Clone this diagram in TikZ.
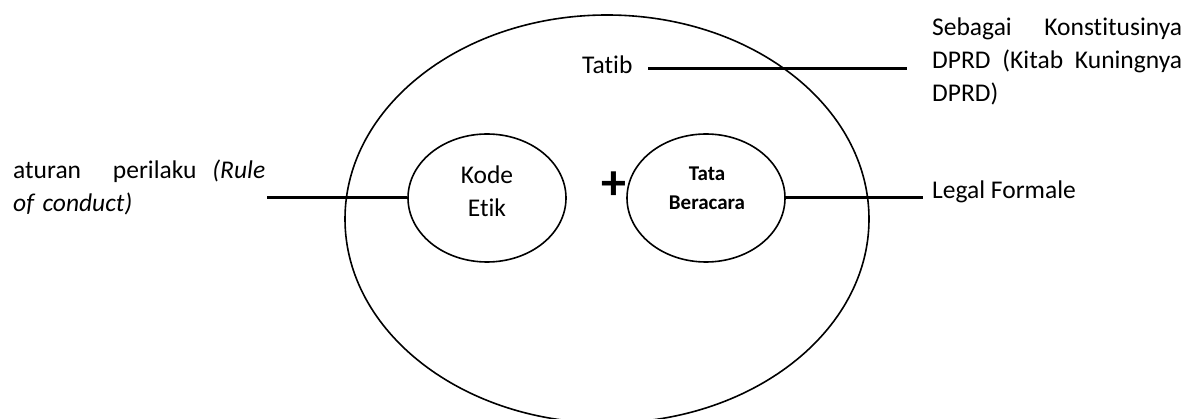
\documentclass[tikz,border=0pt]{standalone}
\usepackage{fontspec}
\setmainfont{Carlito}[RawFeature=-liga]
\usetikzlibrary{shapes.geometric}
\tikzset{
  ring/.style={ellipse, draw, line width=1.6pt, inner sep=0pt},
  link/.style={line width=3pt},
  body/.style={font=\fontsize{25.5}{33}\selectfont, inner sep=0pt},
  inner/.style={body, align=center, text width=140pt, anchor=base},
}
\begin{document}
\begin{tikzpicture}[x=1pt,y=-1pt]
  \useasboundingbox (0,0) rectangle (1195,419);

  % outer ring: Tatib
  \node[ring, minimum width=524pt, minimum height=408pt] (outer) at (607,219) {};

  % inner rings
  \node[ring, minimum width=158pt, minimum height=128pt] (kode) at (487,198) {};
  \node[ring, minimum width=158pt, minimum height=128pt] (tata) at (706,198) {};
  \node[inner] (kodetxt) at (487,184) {Kode\\Etik};
  \node[inner, font=\fontsize{21}{29}\selectfont\bfseries] (tatatxt) at (707,181) {Tata\\Beracara};

  % plus sign between the two rings
  \node[inner sep=0pt, font=\fontsize{50}{50}\selectfont\bfseries] (plus) at (613.5,186) {+};

  % labels
  \node[body, anchor=base west, text width=252pt, align=left] (rule) at (13,179)
    {\makebox[252pt][l]{aturan\hskip 0pt plus 2fill perilaku\hskip 0pt plus 1fill\textit{(Rule}}\\\makebox{\textit{of conduct)}}};
  \node[body, anchor=base west] (tatib) at (582,74) {Tatib};
  \node[body, anchor=base west, text width=250pt, align=left] (konst) at (932,36)
    {\makebox[250pt][l]{Sebagai\hfill Konstitusinya}\\\makebox[250pt][l]{DPRD\hfill(Kitab\hfill Kuningnya}\\\makebox{DPRD)}};
  \node[body, anchor=base west] (legal) at (932,199) {Legal Formale};

  % connector ends
  \coordinate (tatibA) at (648,69);
  \coordinate (tatibB) at (907,69);
  \coordinate (ruleA) at (267,198);
  \coordinate (legalB) at (923,198);

  \draw[link] (tatibA) -- (tatibB);
  \draw[link] (ruleA) -- (kode.west);
  \draw[link] (tata.east) -- (legalB);
\end{tikzpicture}
\end{document}
